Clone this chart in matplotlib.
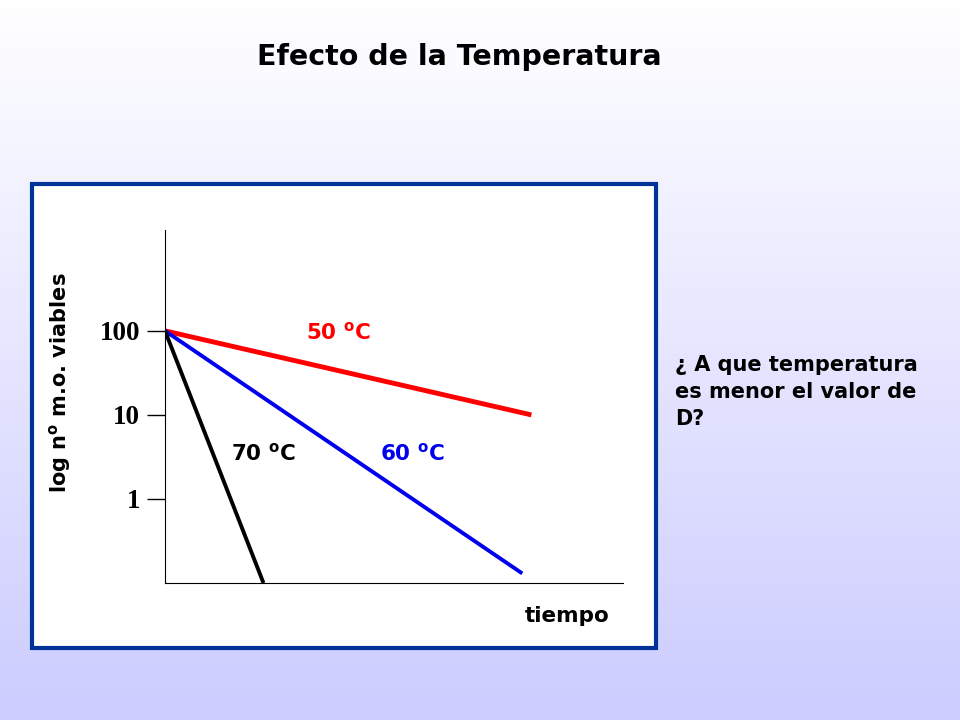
import numpy as np
import matplotlib.pyplot as plt
from matplotlib.patches import Rectangle

plt.rcParams["mathtext.fontset"] = "dejavusans"

# tiempo (arbitrary units) and nº m.o. viables (log scale)
t_50 = [0, 8.0]
n_50 = [100, 10]
t_60 = [0, 7.8]
n_60 = [100, 0.13]
t_70 = [0, 2.15]
n_70 = [100, 0.1]
ytick_vals = [1, 10, 100]
ytick_labels = ["1", "10", "100"]

fig = plt.figure(figsize=(9.6, 7.2), dpi=100)

# slide background: white -> lavender gradient
bg = fig.add_axes([0, 0, 1, 1], zorder=0)
grad = np.linspace(0, 1, 256).reshape(-1, 1)
top = np.array([1.0, 1.0, 1.0])
bot = np.array([0.80, 0.80, 1.0])
img = top + (bot - top) * grad[:, :, None]
bg.imshow(img, aspect="auto", extent=[0, 1, 0, 1])
bg.set_axis_off()

# white panel with blue frame
fig.patches.append(Rectangle((32 / 960, 1 - 648 / 720), 624 / 960, 464 / 720,
                             transform=fig.transFigure, facecolor="white",
                             edgecolor="#003399", linewidth=3, zorder=1))

ax = fig.add_axes([165 / 960, 1 - 583 / 720, 458 / 960, 353 / 720], zorder=2)
ax.patch.set_alpha(0)
ax.plot(t_50, n_50, color="#ff0000", lw=3.5, solid_capstyle="butt")
ax.plot(t_60, n_60, color="#0000ee", lw=2.8, solid_capstyle="butt")
ax.plot(t_70, n_70, color="black", lw=2.8, solid_capstyle="butt")
ax.set_yscale("log")
ax.set_xlim(0, 10)
ax.set_ylim(0.1, 10 ** 3.2)
ax.set_yticks(ytick_vals)
ax.set_yticklabels(ytick_labels, fontfamily="Liberation Serif",
                   fontweight="bold", fontsize=19.5)
ax.minorticks_off()
ax.set_xticks([])
ax.tick_params(axis="y", length=13, width=1, pad=5)
for s in ["top", "right"]:
    ax.spines[s].set_visible(False)

kw = dict(fontweight="bold", fontsize=15.5, ha="center", va="center")
ax.text(3.78, 95, r"50 $^\mathbf{o}$C", color="#ff0000", **kw)
ax.text(5.41, 3.5, r"60 $^\mathbf{o}$C", color="#0000ee", **kw)
ax.text(2.16, 3.5, r"70 $^\mathbf{o}$C", color="black", **kw)

fig.text(459 / 960, 1 - 57 / 720, "Efecto de la Temperatura",
         fontsize=20.5, fontweight="bold", ha="center", va="center")
fig.text(60 / 960, 1 - 383 / 720, r"log n$^\mathbf{o}$ m.o. viables",
         fontsize=15, fontweight="bold", rotation=90, ha="center", va="center")
fig.text(567 / 960, 1 - 616 / 720, "tiempo",
         fontsize=15.5, fontweight="bold", ha="center", va="center")
fig.text(675 / 960, 1 - 355 / 720,
         "¿ A que temperatura\nes menor el valor de\nD?",
         fontsize=15, fontweight="bold", ha="left", va="top", linespacing=1.45)

fig.savefig("out.png", dpi=100)
